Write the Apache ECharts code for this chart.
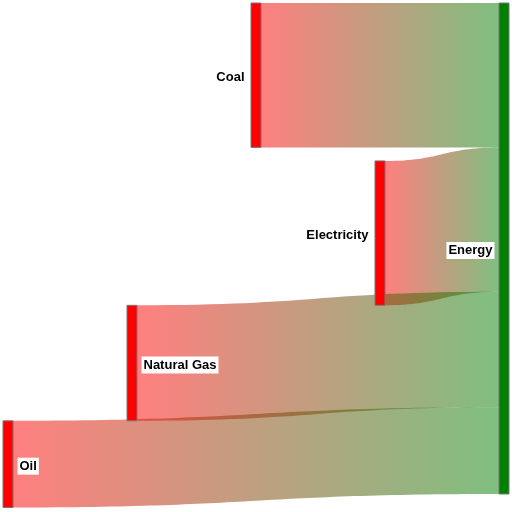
<!DOCTYPE html>
<html>
<head>
<meta charset="utf-8">
<script src="https://cdn.jsdelivr.net/npm/echarts@6/dist/echarts.min.js"></script>
<style>html,body{margin:0;padding:0;background:#fff}#c{width:512px;height:512px}</style>
</head>
<body>
<div id="c"></div>
<script>
var nodeNames = ['Coal', 'Electricity', 'Natural Gas', 'Oil', 'Energy'];
var nodeDepths = [2, 3, 1, 0, 4];
var nodeColors = ['#ff0000', '#ff0000', '#ff0000', '#ff0000', '#008000'];
var labelSides = ['left', 'left', 'right', 'right', 'left'];
var linkSources = ['Coal', 'Electricity', 'Natural Gas', 'Oil'];
var linkTargets = ['Energy', 'Energy', 'Energy', 'Energy'];
var linkValues = [25, 25, 20, 15];

var plotTop = 3, plotBottom = 18, stackGapPx = 13.5;
var plotHeight = 512 - plotTop - plotBottom;

// Source nodes are stacked in the order of their links (staircase layout),
// derived from the cumulative link values.
var total = linkValues.reduce(function (a, b) { return a + b; }, 0);
var stackPos = {};
var acc = 0;
linkSources.forEach(function (s, i) {
  stackPos[s] = acc / total + (i > 0 ? stackGapPx / plotHeight : 0);
  acc += linkValues[i];
});

var chart = echarts.init(document.getElementById('c'), null, {renderer: 'canvas'});
var nodes = nodeNames.map(function (n, i) {
  var item = {
    name: n,
    depth: nodeDepths[i],
    itemStyle: {color: nodeColors[i], borderColor: '#777', borderWidth: 1},
    label: {position: labelSides[i]}
  };
  if (stackPos[n] !== undefined) item.localY = stackPos[n];
  return item;
});
var links = linkSources.map(function (s, i) {
  return {source: s, target: linkTargets[i], value: linkValues[i]};
});
chart.setOption({
  animation: false,
  series: [{
    type: 'sankey',
    left: 3,
    right: 3,
    top: plotTop,
    bottom: plotBottom,
    nodeWidth: 10,
    nodeGap: 8,
    layoutIterations: 0,
    draggable: false,
    emphasis: {disabled: true},
    data: nodes,
    links: links,
    lineStyle: {color: 'gradient', opacity: 0.5, curveness: 0.5},
    label: {
      color: '#000',
      fontFamily: 'Liberation Sans, Arial, sans-serif',
      fontWeight: 'bold',
      fontSize: 13,
      backgroundColor: '#fff',
      padding: [2, 2, 2, 2],
      distance: 4,
      offset: [0, 2]
    }
  }]
});
</script>
</body>
</html>
